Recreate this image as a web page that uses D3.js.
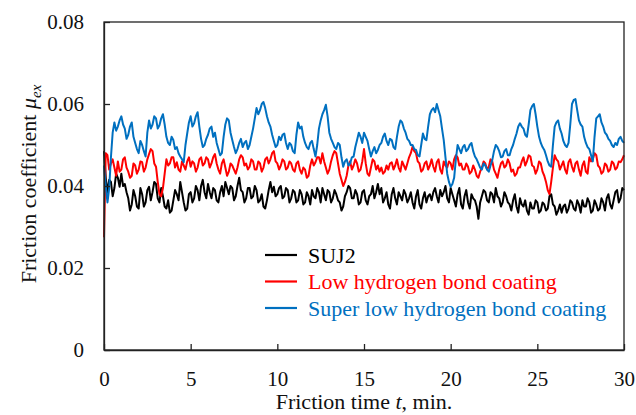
<!DOCTYPE html>
<html>
<head>
<meta charset="utf-8">
<script src="https://cdn.jsdelivr.net/npm/d3@7"></script>
<style>
  body { margin: 0; background: #fff; }
</style>
</head>
<body>
<svg id="chart"></svg>
<script>
// sampled every 0.1 min, 0 .. 30
var step = 0.1;
var xTicks = [0, 5, 10, 15, 20, 25, 30];
var yTicks = [0, 0.02, 0.04, 0.06, 0.08];
var names = ["SUJ2", "Low hydrogen bond coating", "Super low hydrogen bond coating"];
var colors = ["#000000", "#ff0000", "#0070c0"];
var serif = "'Liberation Serif', 'Times New Roman', Times, 'DejaVu Serif', serif";

var suj2 = [
  0.0485, 0.0420, 0.0385, 0.0415, 0.0410, 0.0375, 0.0395, 0.0430, 0.0420, 0.0398,
  0.0430, 0.0400, 0.0405, 0.0385, 0.0370, 0.0340, 0.0355, 0.0390, 0.0375, 0.0350,
  0.0345, 0.0395, 0.0380, 0.0350, 0.0360, 0.0390, 0.0398, 0.0365, 0.0385, 0.0410,
  0.0405, 0.0370, 0.0360, 0.0395, 0.0375, 0.0350, 0.0345, 0.0365, 0.0335, 0.0340,
  0.0365, 0.0390, 0.0380, 0.0365, 0.0410, 0.0385, 0.0360, 0.0340, 0.0345, 0.0380,
  0.0385, 0.0360, 0.0370, 0.0400, 0.0390, 0.0365, 0.0400, 0.0415, 0.0385, 0.0370,
  0.0405, 0.0385, 0.0370, 0.0395, 0.0390, 0.0365, 0.0360, 0.0385, 0.0400, 0.0375,
  0.0410, 0.0395, 0.0380, 0.0400, 0.0395, 0.0365, 0.0375, 0.0400, 0.0420, 0.0390,
  0.0385, 0.0360, 0.0370, 0.0395, 0.0395, 0.0370, 0.0375, 0.0400, 0.0390, 0.0360,
  0.0365, 0.0380, 0.0350, 0.0345, 0.0365, 0.0390, 0.0410, 0.0385, 0.0398, 0.0375,
  0.0380, 0.0395, 0.0400, 0.0370, 0.0375, 0.0395, 0.0390, 0.0360, 0.0370, 0.0390,
  0.0385, 0.0360, 0.0365, 0.0390, 0.0380, 0.0355, 0.0360, 0.0385, 0.0375, 0.0355,
  0.0390, 0.0375, 0.0370, 0.0395, 0.0385, 0.0360, 0.0395, 0.0380, 0.0365, 0.0390,
  0.0385, 0.0360, 0.0370, 0.0390, 0.0380, 0.0365, 0.0360, 0.0340, 0.0350, 0.0375,
  0.0385, 0.0400, 0.0395, 0.0370, 0.0370, 0.0390, 0.0380, 0.0355, 0.0360, 0.0385,
  0.0390, 0.0365, 0.0355, 0.0375, 0.0380, 0.0400, 0.0370, 0.0385, 0.0405, 0.0380,
  0.0395, 0.0360, 0.0370, 0.0385, 0.0355, 0.0345, 0.0380, 0.0395, 0.0370, 0.0355,
  0.0385, 0.0375, 0.0365, 0.0390, 0.0380, 0.0360, 0.0370, 0.0385, 0.0360, 0.0345,
  0.0375, 0.0390, 0.0355, 0.0345, 0.0370, 0.0385, 0.0360, 0.0375, 0.0380, 0.0365,
  0.0385, 0.0395, 0.0375, 0.0360, 0.0390, 0.0375, 0.0385, 0.0400, 0.0370, 0.0360,
  0.0395, 0.0380, 0.0365, 0.0350, 0.0380, 0.0395, 0.0355, 0.0345, 0.0375, 0.0390,
  0.0360, 0.0345, 0.0380, 0.0370, 0.0365, 0.0350, 0.0320, 0.0360, 0.0375, 0.0390,
  0.0385, 0.0365, 0.0360, 0.0385, 0.0380, 0.0360, 0.0395, 0.0375, 0.0370, 0.0350,
  0.0360, 0.0385, 0.0375, 0.0360, 0.0355, 0.0340, 0.0365, 0.0380, 0.0350, 0.0335,
  0.0370, 0.0355, 0.0350, 0.0365, 0.0340, 0.0330, 0.0360, 0.0345, 0.0345, 0.0365,
  0.0360, 0.0335, 0.0340, 0.0360, 0.0355, 0.0340, 0.0345, 0.0375, 0.0380, 0.0355,
  0.0350, 0.0330, 0.0340, 0.0355, 0.0335, 0.0350, 0.0355, 0.0335, 0.0345, 0.0365,
  0.0360, 0.0345, 0.0340, 0.0365, 0.0355, 0.0335, 0.0365, 0.0350, 0.0350, 0.0370,
  0.0360, 0.0335, 0.0340, 0.0365, 0.0355, 0.0340, 0.0345, 0.0370, 0.0360, 0.0340,
  0.0370, 0.0380, 0.0355, 0.0345, 0.0365, 0.0385, 0.0390, 0.0360, 0.0370, 0.0395,
  0.0390
];

var lowH = [
  0.0275, 0.0480, 0.0475, 0.0440, 0.0455, 0.0465, 0.0445, 0.0425, 0.0460, 0.0435,
  0.0440, 0.0465, 0.0470, 0.0445, 0.0435, 0.0420, 0.0425, 0.0455, 0.0450, 0.0430,
  0.0440, 0.0460, 0.0458, 0.0435, 0.0445, 0.0465, 0.0478, 0.0490, 0.0485, 0.0455,
  0.0447, 0.0410, 0.0380, 0.0375, 0.0395, 0.0430, 0.0465, 0.0450, 0.0455, 0.0470,
  0.0470, 0.0445, 0.0458, 0.0440, 0.0435, 0.0460, 0.0450, 0.0440, 0.0460, 0.0470,
  0.0447, 0.0460, 0.0455, 0.0435, 0.0445, 0.0465, 0.0470, 0.0450, 0.0455, 0.0470,
  0.0465, 0.0445, 0.0455, 0.0470, 0.0478, 0.0455, 0.0440, 0.0430, 0.0455, 0.0465,
  0.0445, 0.0425, 0.0435, 0.0455, 0.0450, 0.0440, 0.0430, 0.0445, 0.0465, 0.0475,
  0.0470, 0.0450, 0.0455, 0.0440, 0.0447, 0.0465, 0.0460, 0.0440, 0.0440, 0.0460,
  0.0455, 0.0435, 0.0445, 0.0465, 0.0470, 0.0455, 0.0465, 0.0480, 0.0485, 0.0460,
  0.0455, 0.0440, 0.0450, 0.0465, 0.0460, 0.0440, 0.0445, 0.0460, 0.0455, 0.0440,
  0.0435, 0.0455, 0.0460, 0.0440, 0.0430, 0.0445, 0.0440, 0.0420, 0.0425, 0.0450,
  0.0465, 0.0450, 0.0458, 0.0470, 0.0470, 0.0455, 0.0480, 0.0460, 0.0445, 0.0430,
  0.0440, 0.0460, 0.0475, 0.0485, 0.0480, 0.0455, 0.0430, 0.0415, 0.0400, 0.0410,
  0.0425, 0.0450, 0.0460, 0.0440, 0.0450, 0.0465, 0.0455, 0.0435, 0.0440, 0.0460,
  0.0490, 0.0455, 0.0430, 0.0425, 0.0445, 0.0465, 0.0460, 0.0440, 0.0450, 0.0435,
  0.0445, 0.0430, 0.0435, 0.0450, 0.0440, 0.0455, 0.0458, 0.0440, 0.0450, 0.0465,
  0.0445, 0.0435, 0.0460, 0.0450, 0.0440, 0.0455, 0.0470, 0.0480, 0.0496, 0.0485,
  0.0480, 0.0460, 0.0455, 0.0435, 0.0440, 0.0455, 0.0460, 0.0440, 0.0450, 0.0465,
  0.0447, 0.0435, 0.0458, 0.0465, 0.0440, 0.0430, 0.0460, 0.0450, 0.0445, 0.0460,
  0.0455, 0.0440, 0.0465, 0.0475, 0.0470, 0.0450, 0.0455, 0.0440, 0.0440, 0.0455,
  0.0447, 0.0430, 0.0435, 0.0450, 0.0440, 0.0425, 0.0420, 0.0435, 0.0445, 0.0460,
  0.0455, 0.0440, 0.0447, 0.0465, 0.0460, 0.0440, 0.0430, 0.0420, 0.0440, 0.0455,
  0.0460, 0.0445, 0.0450, 0.0465, 0.0455, 0.0435, 0.0440, 0.0425, 0.0430, 0.0445,
  0.0445, 0.0460, 0.0470, 0.0450, 0.0460, 0.0475, 0.0472, 0.0450, 0.0447, 0.0430,
  0.0440, 0.0460, 0.0455, 0.0435, 0.0425, 0.0410, 0.0390, 0.0380, 0.0410, 0.0445,
  0.0475, 0.0465, 0.0460, 0.0440, 0.0450, 0.0460, 0.0440, 0.0430, 0.0458, 0.0465,
  0.0447, 0.0435, 0.0455, 0.0460, 0.0440, 0.0425, 0.0450, 0.0460, 0.0435, 0.0430,
  0.0470, 0.0460, 0.0465, 0.0480, 0.0475, 0.0450, 0.0445, 0.0430, 0.0435, 0.0455,
  0.0450, 0.0435, 0.0440, 0.0460, 0.0455, 0.0440, 0.0445, 0.0460, 0.0458, 0.0465,
  0.0475
];

var superLowH = [
  0.0450, 0.0400, 0.0360, 0.0395, 0.0470, 0.0530, 0.0555, 0.0535, 0.0545, 0.0560,
  0.0570, 0.0550, 0.0540, 0.0515, 0.0525, 0.0545, 0.0555, 0.0520, 0.0505, 0.0490,
  0.0480, 0.0510, 0.0500, 0.0485, 0.0472, 0.0530, 0.0560, 0.0540, 0.0550, 0.0570,
  0.0565, 0.0540, 0.0548, 0.0565, 0.0575, 0.0550, 0.0520, 0.0505, 0.0500, 0.0520,
  0.0512, 0.0490, 0.0495, 0.0480, 0.0472, 0.0465, 0.0458, 0.0500, 0.0528, 0.0555,
  0.0570, 0.0545, 0.0553, 0.0570, 0.0580, 0.0545, 0.0515, 0.0495, 0.0500, 0.0515,
  0.0525, 0.0540, 0.0545, 0.0520, 0.0530, 0.0505, 0.0490, 0.0475, 0.0480, 0.0520,
  0.0550, 0.0565, 0.0560, 0.0530, 0.0512, 0.0495, 0.0480, 0.0490, 0.0505, 0.0515,
  0.0495, 0.0505, 0.0510, 0.0490, 0.0500, 0.0520, 0.0540, 0.0565, 0.0590, 0.0575,
  0.0585, 0.0600, 0.0605, 0.0590, 0.0570, 0.0555, 0.0545, 0.0525, 0.0510, 0.0495,
  0.0500, 0.0520, 0.0512, 0.0525, 0.0528, 0.0505, 0.0490, 0.0505, 0.0500, 0.0485,
  0.0480, 0.0525, 0.0555, 0.0540, 0.0545, 0.0520, 0.0505, 0.0495, 0.0490, 0.0505,
  0.0510, 0.0490, 0.0472, 0.0500, 0.0540, 0.0560, 0.0575, 0.0585, 0.0598, 0.0570,
  0.0530, 0.0515, 0.0505, 0.0495, 0.0490, 0.0505, 0.0500, 0.0470, 0.0447, 0.0460,
  0.0465, 0.0450, 0.0455, 0.0470, 0.0472, 0.0495, 0.0512, 0.0530, 0.0520, 0.0505,
  0.0530, 0.0520, 0.0510, 0.0490, 0.0472, 0.0485, 0.0495, 0.0480, 0.0488, 0.0500,
  0.0505, 0.0520, 0.0528, 0.0510, 0.0500, 0.0515, 0.0512, 0.0495, 0.0490, 0.0520,
  0.0545, 0.0560, 0.0555, 0.0540, 0.0530, 0.0515, 0.0510, 0.0500, 0.0500, 0.0490,
  0.0488, 0.0475, 0.0472, 0.0500, 0.0528, 0.0515, 0.0512, 0.0545, 0.0575, 0.0585,
  0.0590, 0.0580, 0.0600, 0.0585, 0.0570, 0.0540, 0.0512, 0.0470, 0.0430, 0.0410,
  0.0398, 0.0405, 0.0420, 0.0465, 0.0500, 0.0490, 0.0480, 0.0495, 0.0500, 0.0485,
  0.0490, 0.0500, 0.0505, 0.0485, 0.0472, 0.0465, 0.0455, 0.0445, 0.0440, 0.0455,
  0.0450, 0.0440, 0.0435, 0.0450, 0.0463, 0.0485, 0.0500, 0.0495, 0.0485, 0.0470,
  0.0472, 0.0485, 0.0490, 0.0475, 0.0475, 0.0490, 0.0500, 0.0515, 0.0528, 0.0545,
  0.0553, 0.0545, 0.0540, 0.0525, 0.0520, 0.0550, 0.0585, 0.0595, 0.0600, 0.0575,
  0.0545, 0.0520, 0.0505, 0.0495, 0.0488, 0.0475, 0.0460, 0.0450, 0.0447, 0.0500,
  0.0545, 0.0555, 0.0560, 0.0540, 0.0528, 0.0510, 0.0500, 0.0495, 0.0505, 0.0550,
  0.0600, 0.0610, 0.0612, 0.0585, 0.0560, 0.0550, 0.0545, 0.0520, 0.0505, 0.0495,
  0.0490, 0.0475, 0.0460, 0.0520, 0.0565, 0.0570, 0.0575, 0.0555, 0.0545, 0.0530,
  0.0525, 0.0515, 0.0510, 0.0500, 0.0495, 0.0505, 0.0500, 0.0515, 0.0520, 0.0510,
  0.0505
];

var width = 636, height = 415;
var margin = {top: 22, right: 12, bottom: 65, left: 104};
var plotW = width - margin.left - margin.right,
    plotH = height - margin.top - margin.bottom;

var svg = d3.select("#chart").attr("width", width).attr("height", height)
  .attr("font-family", serif);
var g = svg.append("g").attr("transform", "translate(" + margin.left + "," + margin.top + ")");

var x = d3.scaleLinear().domain([0, 30]).range([0, plotW]);
var y = d3.scaleLinear().domain([0, 0.08]).range([plotH, 0]);

// series, blue drawn last so it sits on top
var series = [suj2, lowH, superLowH];
var line = d3.line()
  .x(function(d, i) { return x(i * step); })
  .y(function(d) { return y(d); });

g.selectAll(".series").data(series)
  .enter().append("path")
  .attr("class", "series")
  .attr("fill", "none")
  .attr("stroke", function(d, i) { return colors[i]; })
  .attr("stroke-width", 2)
  .attr("stroke-linejoin", "round")
  .attr("d", line);

// frame
g.append("rect")
  .attr("width", plotW).attr("height", plotH)
  .attr("fill", "none").attr("stroke", "#222").attr("stroke-width", 1.3);

// axes, ticks inside
var xAxis = g.append("g").attr("transform", "translate(0," + plotH + ")")
  .call(d3.axisBottom(x).tickValues(xTicks).tickSizeInner(-6).tickSizeOuter(0).tickPadding(21));
var yAxis = g.append("g")
  .call(d3.axisLeft(y).tickValues(yTicks).tickSizeInner(-6).tickSizeOuter(0).tickPadding(20)
    .tickFormat(function(d) { return d === 0 ? "0" : d3.format(".2f")(d); }));

[xAxis, yAxis].forEach(function(a) {
  a.attr("font-family", serif).attr("font-size", 21);
  a.select(".domain").attr("stroke", "#222").attr("stroke-width", 1.3);
  a.selectAll(".tick line").attr("stroke", "#222").attr("stroke-width", 1.3);
  a.selectAll(".tick text").attr("fill", "#111").attr("font-family", serif).attr("font-size", 21);
});

// axis titles
var xt = svg.append("text")
  .attr("x", margin.left + plotW / 2).attr("y", 409)
  .attr("text-anchor", "middle").attr("font-family", serif).attr("font-size", 22).attr("fill", "#111");
xt.append("tspan").text("Friction time ");
xt.append("tspan").attr("font-style", "italic").text("t");
xt.append("tspan").text(", min.");

var yt = svg.append("text")
  .attr("transform", "translate(36,184) rotate(-90)")
  .attr("text-anchor", "middle").attr("font-family", serif).attr("font-size", 22).attr("fill", "#111");
yt.append("tspan").text("Friction coefficient ");
yt.append("tspan").attr("font-style", "italic").text("\u03bc");
yt.append("tspan").attr("font-style", "italic").attr("dy", 5).attr("font-size", 15).text("ex");

// legend
var legend = svg.append("g").attr("transform", "translate(265,255)");
var items = legend.selectAll(".item").data(names)
  .enter().append("g").attr("class", "item")
  .attr("transform", function(d, i) { return "translate(0," + (i * 26.5) + ")"; });
items.append("line")
  .attr("x1", 0).attr("x2", 32).attr("y1", 0).attr("y2", 0)
  .attr("stroke", function(d, i) { return colors[i]; }).attr("stroke-width", 2.2);
items.append("text")
  .attr("x", 43).attr("y", 0).attr("dy", "0.35em")
  .attr("font-family", serif).attr("font-size", 22)
  .attr("fill", function(d, i) { return colors[i]; })
  .text(function(d) { return d; });
</script>
</body>
</html>
